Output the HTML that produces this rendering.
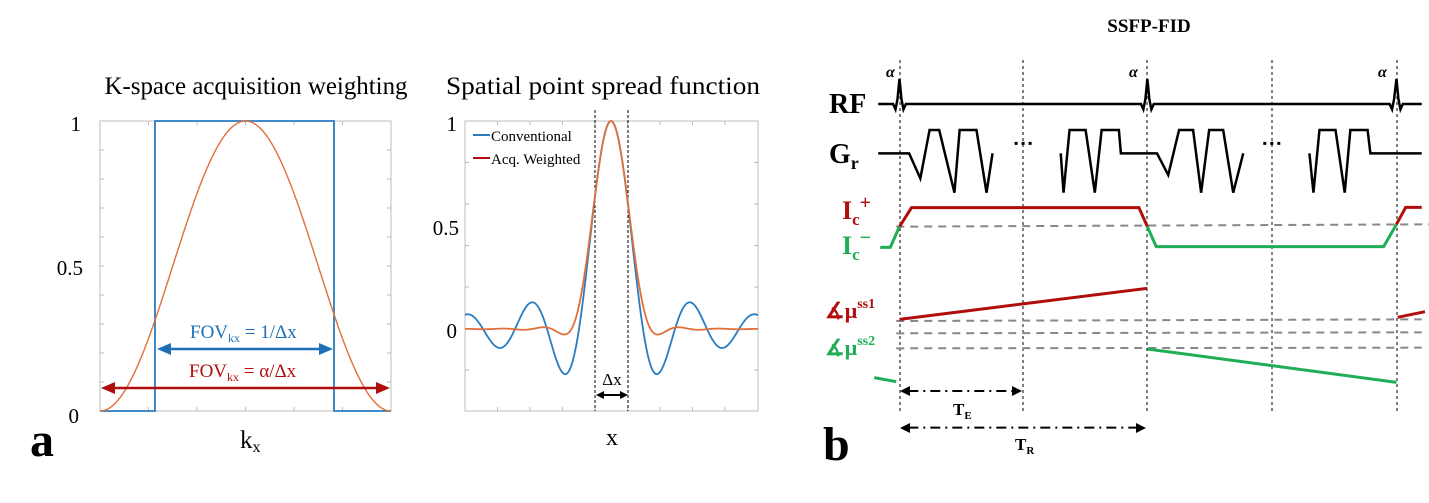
<!DOCTYPE html>
<html><head><meta charset="utf-8"><style>
html,body{margin:0;padding:0;background:#fff;}
svg{display:block;}
text{font-family:"Liberation Serif",serif;}
</style></head><body>
<svg id="s" width="1429" height="503" viewBox="0 0 1429 503" xmlns="http://www.w3.org/2000/svg" font-family="Liberation Serif, serif">
<rect width="1429" height="503" fill="#fff"/>
<!-- Panel a -->
<text x="256" y="94" font-size="25" text-anchor="middle" textLength="303" lengthAdjust="spacingAndGlyphs">K-space acquisition weighting</text>
<rect x="100" y="121" width="291" height="290" fill="none" stroke="#bdbdbd" stroke-width="1"/>
<g id="ta" stroke="#bdbdbd" stroke-width="1"></g>
<text x="81" y="131" font-size="21" text-anchor="end">1</text>
<text x="83" y="275" font-size="21" text-anchor="end">0.5</text>
<text x="79" y="423" font-size="21" text-anchor="end">0</text>
<path d="M100,411 L155,411 L155,121 L334,121 L334,411 L391,411" fill="none" stroke="#2a7cc0" stroke-width="1.8"/>
<path id="hann" fill="none" stroke="#e0703a" stroke-width="1.4"/>
<line x1="165" y1="349" x2="325" y2="349" stroke="#1f6fb4" stroke-width="2.5"/>
<polygon points="157,349 171,343 171,355" fill="#1f6fb4"/>
<polygon points="333,349 319,343 319,355" fill="#1f6fb4"/>
<line x1="109" y1="388" x2="382" y2="388" stroke="#b00d0d" stroke-width="2.5"/>
<polygon points="101,388 115,382 115,394" fill="#b00d0d"/>
<polygon points="390,388 376,382 376,394" fill="#b00d0d"/>
<text x="190" y="338" font-size="19" fill="#1f6fb4">FOV<tspan font-size="12" dy="4">kx</tspan><tspan dy="-4"> = 1/Δx</tspan></text>
<text x="189" y="377" font-size="19" fill="#b00d0d">FOV<tspan font-size="12" dy="4">kx</tspan><tspan dy="-4"> = α/Δx</tspan></text>
<text x="240" y="448" font-size="25">k<tspan font-size="16" dy="4">x</tspan></text>
<text x="30" y="456" font-size="48" font-weight="bold">a</text>
<!-- Panel b -->
<text x="603" y="94" font-size="25" text-anchor="middle" textLength="314" lengthAdjust="spacingAndGlyphs">Spatial point spread function</text>
<rect x="465" y="121" width="293" height="290" fill="none" stroke="#bdbdbd" stroke-width="1"/>
<g id="tb" stroke="#bdbdbd" stroke-width="1"></g>
<text x="457" y="131" font-size="21" text-anchor="end">1</text>
<text x="459" y="235" font-size="21" text-anchor="end">0.5</text>
<text x="457" y="338" font-size="21" text-anchor="end">0</text>
<line x1="595" y1="110" x2="595" y2="411" stroke="#000" stroke-width="1" stroke-dasharray="3,2"/>
<line x1="628" y1="110" x2="628" y2="411" stroke="#000" stroke-width="1" stroke-dasharray="3,2"/>
<path id="sinc" fill="none" stroke="#2a7cc0" stroke-width="1.8"/>
<path id="psf" fill="none" stroke="#e0703a" stroke-width="1.8"/>
<line x1="473" y1="135" x2="490" y2="135" stroke="#2a7cc0" stroke-width="2"/>
<text x="491" y="141" font-size="15">Conventional</text>
<line x1="473" y1="158" x2="490" y2="158" stroke="#b00d0d" stroke-width="2"/>
<text x="491" y="164" font-size="15">Acq. Weighted</text>
<line x1="602" y1="395" x2="621" y2="395" stroke="#000" stroke-width="2"/>
<polygon points="596,395 604,391 604,399" fill="#000"/>
<polygon points="628,395 620,391 620,399" fill="#000"/>
<text x="612" y="385" font-size="17" text-anchor="middle">Δx</text>
<text x="612" y="445" font-size="24" text-anchor="middle">x</text>
<!-- Panel b right -->
<text x="1149" y="32" font-size="19" font-weight="bold" text-anchor="middle">SSFP-FID</text>
<g stroke="#000" stroke-width="1" stroke-dasharray="3,3">
<line x1="900" y1="60" x2="900" y2="414"/><line x1="1023" y1="60" x2="1023" y2="414"/>
<line x1="1147" y1="60" x2="1147" y2="414"/><line x1="1272" y1="60" x2="1272" y2="414"/>
<line x1="1397" y1="60" x2="1397" y2="414"/>
</g>
<g transform="translate(800,0) scale(0.40112,0.33333)" fill="none" stroke-linejoin="miter">
<path vector-effect="non-scaling-stroke" stroke="#000" stroke-width="2.5" d="M195,312 L232,312 L238,328 L243,298 L248,237 L253,298 L258,328 L264,312 L850,312 L856,328 L861,298 L866,237 L871,298 L876,328 L882,312 L1470,312 L1476,328 L1481,298 L1487,237 L1492,298 L1497,328 L1503,312 L1550,312"/>
<path vector-effect="non-scaling-stroke" stroke="#000" stroke-width="2.5" d="M195,460 L272,460 L300,535 L323,390 L347,390 L385,578 L398,390 L440,390 L465,578 L480,460"/>
<path vector-effect="non-scaling-stroke" stroke="#000" stroke-width="2.5" d="M650,460 L657,578 L672,390 L712,390 L735,578 L752,390 L795,390 L800,460 L890,460 L918,525 L945,390 L980,390 L1000,578 L1020,390 L1055,390 L1080,578 L1105,460"/>
<path vector-effect="non-scaling-stroke" stroke="#000" stroke-width="2.5" d="M1270,460 L1280,578 L1295,390 L1335,390 L1358,578 L1372,390 L1415,390 L1422,460 L1550,460"/>
<path vector-effect="non-scaling-stroke" stroke="#000" stroke-width="3" stroke-dasharray="3,4" d="M535,430 L585,430 M1155,430 L1205,430"/>
<path vector-effect="non-scaling-stroke" stroke="#888" stroke-width="2" stroke-dasharray="8,6" d="M240,680 L1568,673 M240,963 L1550,958 M240,1000 L1550,997 M240,1045 L1550,1043"/>
<path vector-effect="non-scaling-stroke" stroke="#b00d0d" stroke-width="3" d="M248,680 L278,623 L845,623 L866,680 M1487,673 L1510,622 L1550,622"/>
<path vector-effect="non-scaling-stroke" stroke="#1fad55" stroke-width="3" d="M200,742 L225,742 L248,680 M866,680 L888,740 L1455,740 L1487,673"/>
<path vector-effect="non-scaling-stroke" stroke="#b00d0d" stroke-width="3" d="M248,958 L866,865 M1490,952 L1558,935"/>
<path vector-effect="non-scaling-stroke" stroke="#1fad55" stroke-width="3" d="M866,1047 L1487,1147 M185,1133 L240,1145"/>
<path vector-effect="non-scaling-stroke" stroke="#000" stroke-width="2" stroke-dasharray="10,5,2,5" d="M270,1173 L530,1173 M270,1283 L845,1283"/>
</g>
<polygon points="900,391 910,386 910,396" fill="#000"/>
<polygon points="1022,391 1012,386 1012,396" fill="#000"/>
<polygon points="900,428 910,423 910,433" fill="#000"/>
<polygon points="1146,428 1136,423 1136,433" fill="#000"/>
<g font-weight="bold">
<text x="886" y="77" font-size="16" font-style="italic">α</text>
<text x="1129" y="77" font-size="16" font-style="italic">α</text>
<text x="1378" y="77" font-size="16" font-style="italic">α</text>
<text x="829" y="113" font-size="28">RF</text>
<text x="829" y="163" font-size="28">G<tspan font-size="18" dy="6">r</tspan></text>
<text x="842" y="219" font-size="26" fill="#b00d0d">I<tspan font-size="17" dy="6">c</tspan><tspan font-size="20" dy="-16">+</tspan></text>
<text x="842" y="254" font-size="26" fill="#1fad55">I<tspan font-size="17" dy="6">c</tspan><tspan font-size="20" dy="-16">−</tspan></text>
<text x="825" y="318" font-size="22" fill="#b00d0d">∡μ<tspan font-size="14" dy="-10">ss1</tspan></text>
<text x="825" y="355" font-size="22" fill="#1fad55">∡μ<tspan font-size="14" dy="-10">ss2</tspan></text>
<text x="953" y="415" font-size="17">T<tspan font-size="11" dy="4">E</tspan></text>
<text x="1015" y="450" font-size="17">T<tspan font-size="11" dy="4">R</tspan></text>
<text x="823" y="460" font-size="48">b</text>
</g>
</svg>
<script>
(function(){
var d="",i;
for(i=0;i<=291;i++){var x=100+i,k=(x-245.5)/145.5;var v=Math.abs(k)<1?(1+Math.cos(Math.PI*k))/2:0;d+=(i?"L":"M")+x+","+(411-290*v).toFixed(2);}
document.getElementById("hann").setAttribute("d",d);
function sinc(u){return u==0?1:Math.sin(Math.PI*u)/(Math.PI*u);}
var K=0.81,N=400;
function psf(u){var s=0;for(var j=0;j<=N;j++){var k=-K+2*K*j/N;var w=(1+Math.cos(Math.PI*k/K))/2;s+=w*Math.cos(2*Math.PI*k*u)*(j==0||j==N?0.5:1);}return s*(2*K/N);}
var p0=psf(0),d1="",d2="";
for(i=0;i<=293;i++){var x=465+i,u=(x-611)/32;d1+=(i?"L":"M")+x+","+(329-208*sinc(u)).toFixed(2);d2+=(i?"L":"M")+x+","+(329-208*psf(u)/p0).toFixed(2);}
document.getElementById("sinc").setAttribute("d",d1);
document.getElementById("psf").setAttribute("d",d2);
var ns="http://www.w3.org/2000/svg";
function ln(g,a,b,c,e){var l=document.createElementNS(ns,"line");l.setAttribute("x1",a);l.setAttribute("y1",b);l.setAttribute("x2",c);l.setAttribute("y2",e);g.appendChild(l);}
var ta=document.getElementById("ta"),tb=document.getElementById("tb");
for(i=1;i<10;i++){var y=411-29*i;ln(ta,100,y,104,y);ln(ta,387,y,391,y);}
for(i=1;i<6;i++){var x=100+48.5*i;ln(ta,x,411,x,407);ln(ta,x,121,x,125);}
for(i=1;i<7;i++){var y=121+41.5*i;ln(tb,465,y,469,y);ln(tb,754,y,758,y);}
for(i=1;i<9;i++){var x=465+32.5*i;ln(tb,x,411,x,407);ln(tb,x,121,x,125);}
})();
</script>
</body></html>
